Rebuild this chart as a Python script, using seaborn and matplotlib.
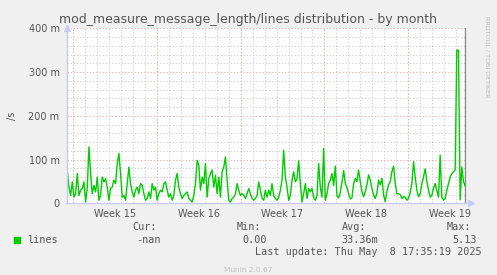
import numpy as np
import pandas as pd
import matplotlib
matplotlib.use("Agg")
import matplotlib.pyplot as plt
import matplotlib.dates as mdates
import seaborn as sns

# ---------------- data ----------------
title = "mod_measure_message_length/lines distribution - by month"
series_name = "lines"
y_label = "/s"
series_start = "2025-04-05 13:00"
series_step = "200min"
# values in milli-units per second (m/s)
lines_m = [
    75, 37, 18, 49, 14, 22, 68, 18, 30, 34, 49, 3, 37, 129, 68, 22, 41, 26, 60, 7,
    18, 60, 49, 56, 37, 7, 34, 37, 53, 45, 91, 114, 68, 14, 18, 7, 45, 83, 45, 26,
    14, 30, 37, 22, 45, 41, 22, 7, 11, 26, 11, 45, 30, 37, 7, 22, 30, 26, 45, 49,
    30, 14, 22, 7, 18, 53, 68, 37, 22, 11, 18, 22, 26, 11, 7, 3, 18, 45, 98, 87,
    30, 60, 45, 91, 14, 56, 68, 76, 37, 64, 22, 60, 14, 72, 83, 106, 53, 7, 3, 11,
    14, 22, 45, 30, 18, 22, 18, 11, 22, 34, 22, 11, 7, 11, 18, 49, 30, 11, 7, 30,
    14,
    30, 18, 45, 18, 11, 7, 14, 30, 53, 121, 60, 37, 7, 18, 53, 72, 49, 56, 98, 45,
    3, 22, 45, 11, 34, 26, 34, 14, 7, 18, 91, 37, 14, 125, 7, 22, 45, 53, 68, 41,
    85, 18, 12, 25, 48, 75, 45, 36, 22, 10, 12, 45, 57, 50, 76, 50, 27, 15, 27, 42,
    65, 53, 34, 19, 11, 23, 53, 42, 57, 19, 4, 27, 42, 50, 72, 85, 45, 22, 22, 20,
    11,
    15, 14, 7, 11, 25, 45, 95, 60, 30, 15, 22, 45, 60, 79, 50, 30, 14, 18, 35, 45,
    30, 14, 110, 14, 7, 11, 30, 45, 60, 68, 72, 76,
    350, 350, 8, 83, 50, 40,
]
y_ticks = [0, 100, 200, 300, 400]
y_tick_labels = ["0", "100 m", "200 m", "300 m", "400 m"]
week_starts = ["2025-04-06", "2025-04-13", "2025-04-20", "2025-04-27", "2025-05-04"]
week_labels = ["Week 15", "Week 16", "Week 17", "Week 18", "Week 19"]
x_start = "2025-04-05 11:24"
x_end = "2025-05-08 20:24"
now_time = "2025-05-08 17:35:19"
stat_headers = ["Cur:", "Min:", "Avg:", "Max:"]
stat_values = ["-nan", "0.00", "33.36m", "5.13"]
last_update = "Last update: Thu May  8 17:35:19 2025"
footer = "Munin 2.0.67"
side_text = "RRDTOOL / TOBI OETIKER"

# ---------------- styling ----------------
W, H = 497, 275
BG = "#F0F0F0"
TXT = "#555555"
GREEN = "#00CC00"
MINOR = "#D4D4D4"
MAJOR = "#F2B4B4"
AXIS = "#C8CCF0"

df = pd.DataFrame({
    "time": pd.date_range(series_start, periods=len(lines_m), freq=series_step),
    "value": lines_m,
})

fig = plt.figure(figsize=(W / 100, H / 100), dpi=100, facecolor=BG)
L, R, T, B = 66.5, 466.5, 28.3, 203.3
ax = fig.add_axes([L / W, 1 - B / H, (R - L) / W, (B - T) / H])
ax.set_facecolor("white")

xs, xe = pd.Timestamp(x_start), pd.Timestamp(x_end)
ax.set_xlim(xs, xe)
ax.set_ylim(0, 400)

dash = (0, (1.4, 1.8))
# minor grid
for d in pd.date_range(xs.normalize() + pd.Timedelta(days=1), xe, freq="D"):
    ax.axvline(d, color=MINOR, lw=0.72, ls=dash, zorder=1)
for v in range(20, 401, 20):
    if v % 100:
        ax.axhline(v, color=MINOR, lw=0.72, ls=dash, zorder=1)
# major grid
for w in week_starts:
    ax.axvline(pd.Timestamp(w), color=MAJOR, lw=0.72, ls=dash, zorder=1.5)
for v in y_ticks[1:]:
    ax.axhline(v, color=MAJOR, lw=0.72, ls=dash, zorder=1.5)

sns.lineplot(data=df, x="time", y="value", ax=ax, color=GREEN, lw=1.0, zorder=3)

ax.axvline(pd.Timestamp(now_time), color="#888888", lw=1.0, zorder=2)

for s in ["top", "right"]:
    ax.spines[s].set_visible(False)
for s in ["left", "bottom"]:
    ax.spines[s].set_color(AXIS)
    ax.spines[s].set_linewidth(1.0)
    ax.spines[s].set_zorder(4)

ax.set_yticks(y_ticks)
ax.set_yticklabels(y_tick_labels)
mids = [pd.Timestamp(w) + pd.Timedelta(hours=84) for w in week_starts]
ax.set_xticks(mids)
ax.set_xticklabels(week_labels)
ax.tick_params(axis="both", length=0, labelsize=7, labelcolor=TXT, pad=5)
ax.tick_params(axis="x", pad=4)
ax.set_xlabel("")
ax.set_ylabel("")

# arrows
ax.plot([0], [1.0], transform=ax.transAxes, marker="^", ms=4, color=AXIS, clip_on=False, zorder=5)
ax.plot([1.01], [0], transform=ax.transAxes, marker=">", ms=4, color=AXIS, clip_on=False, zorder=5)

def fy(y):
    return 1 - y / H

fig.text(248 / W, fy(19.5), title, ha="center", va="center", fontsize=9.0, color=TXT)
fig.text(12 / W, fy(116), y_label, ha="center", va="center", fontsize=7, color=TXT, rotation=90)
fig.text(487 / W, fy(57), side_text, ha="center", va="center", fontsize=4.6, color="#BBBBBB", rotation=270)

mono = "DejaVu Sans Mono"
fs = 7.3
for hx, h in zip([132, 237, 342, 447], stat_headers):
    fig.text(hx / W, fy(227), h, ha="left", va="center", fontsize=fs, family=mono, color=TXT)
fig.patches.append(plt.Rectangle((14 / W, fy(243)), 6 / W, 6 / H, transform=fig.transFigure, color=GREEN, figure=fig))
fig.text(27 / W, fy(240), series_name, ha="left", va="center", fontsize=fs, family=mono, color=TXT)
for vx, v in zip([161, 267, 378, 477], stat_values):
    fig.text(vx / W, fy(240), v, ha="right", va="center", fontsize=fs, family=mono, color=TXT)
fig.text(482 / W, fy(252), last_update, ha="right", va="center", fontsize=fs, family=mono, color=TXT)
fig.text(248 / W, fy(270), footer, ha="center", va="center", fontsize=5.3, color="#C0C0C0")

fig.savefig("out.png", dpi=100, facecolor=BG)
